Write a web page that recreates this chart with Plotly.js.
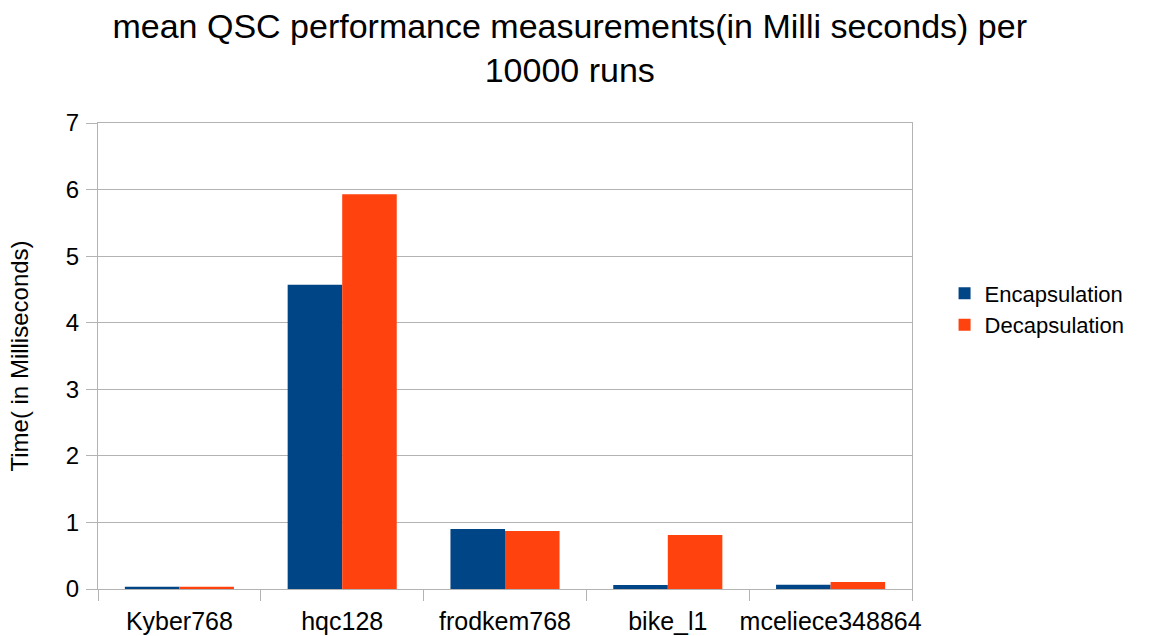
<!DOCTYPE html>
<html>
<head>
<meta charset="utf-8">
<script src="https://cdn.plot.ly/plotly-3.0.1.min.js"></script>
<style>html,body{margin:0;padding:0;background:#fff;}#chart{width:1158px;height:636px;}</style>
</head>
<body>
<div id="chart"></div>
<script>
const categories = ["Kyber768", "hqc128", "frodkem768", "bike_l1", "mceliece348864"];
const encapsulation = [0.035, 4.57, 0.90, 0.06, 0.065];
const decapsulation = [0.035, 5.93, 0.87, 0.81, 0.105];
const yTicks = [0, 1, 2, 3, 4, 5, 6, 7];

const font = "Liberation Sans, Arial, sans-serif";
const data = [
  {type: "bar", name: "Encapsulation", x: categories, y: encapsulation, marker: {color: "#004586"}},
  {type: "bar", name: "Decapsulation", x: categories, y: decapsulation, marker: {color: "#ff420e"}}
];
const layout = {
  width: 1158, height: 636,
  margin: {l: 98, r: 246, t: 123, b: 47},
  paper_bgcolor: "#fff", plot_bgcolor: "#fff",
  font: {family: font, color: "#000"},
  title: {text: "mean QSC performance measurements(in Milli seconds) per<br>10000 runs",
          font: {size: 34, family: font}, x: 0.492, xanchor: "center", y: 0.94, yanchor: "top", yref: "container"},
  barmode: "group", bargap: 0.33, bargroupgap: 0,
  xaxis: {type: "category", tickfont: {size: 25}, tickangle: 0, automargin: false, ticks: "outside", tickson: "boundaries", ticklen: 11,
          ticklabelstandoff: 10,
          tickcolor: "#b3b3b3", showline: true, linecolor: "#b3b3b3", mirror: true, showgrid: false},
  yaxis: {range: [0, 7], tickvals: yTicks, ticktext: yTicks.map(String), tickfont: {size: 24}, automargin: false,
          ticks: "outside", ticklen: 11, ticklabelstandoff: 2, tickcolor: "#b3b3b3", showline: true, linecolor: "#b3b3b3", mirror: true,
          gridcolor: "#b3b3b3", zeroline: false,
          title: {text: "Time( in Milliseconds)", font: {size: 24}, standoff: 30}},
  showlegend: true,
  legend: {x: 1.04, xanchor: "left", y: 0.6, yanchor: "middle", font: {size: 22}},
};
Plotly.newPlot("chart", data, layout, {displayModeBar: false, staticPlot: true});
</script>
</body>
</html>
